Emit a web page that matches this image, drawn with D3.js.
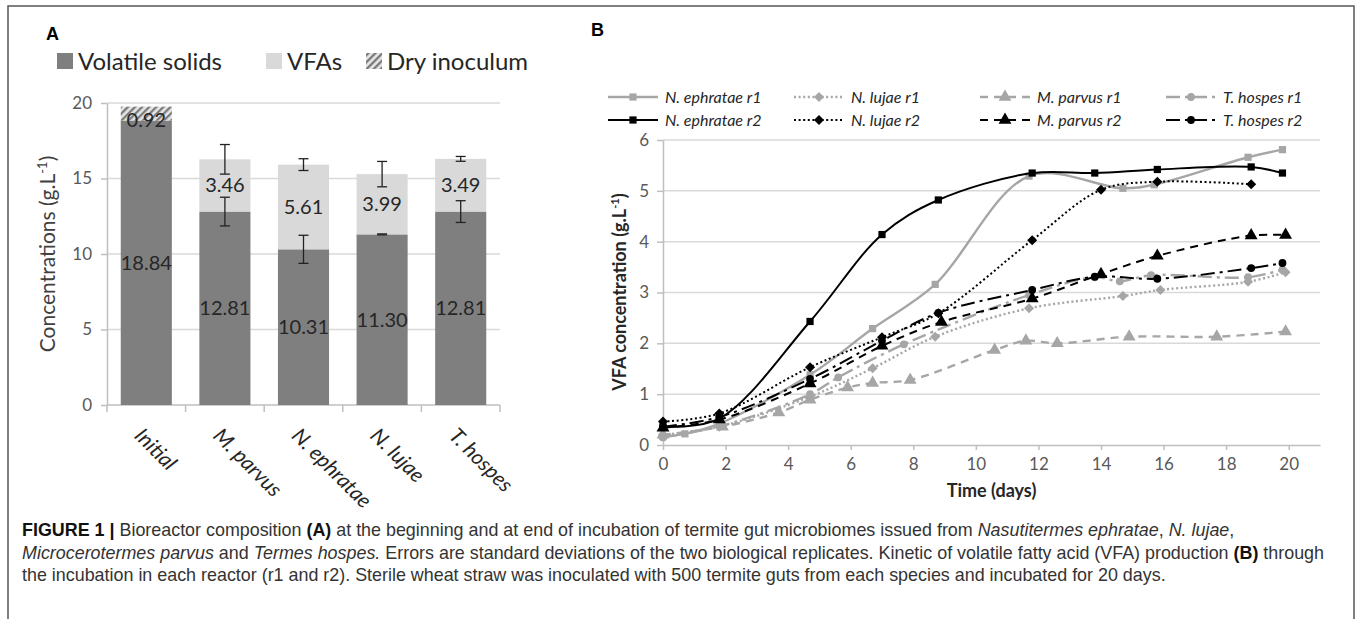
<!DOCTYPE html>
<html>
<head>
<meta charset="utf-8">
<script src="https://cdn.jsdelivr.net/npm/d3@7/dist/d3.min.js"></script>
<style>
  body { margin: 0; background: #fff; }
  svg text { font-family: Lato, "Open Sans", sans-serif; }
  svg .caption, svg .panel-letter { font-family: "Liberation Sans Narrow", "Liberation Sans", Arial, sans-serif; }
</style>
</head>
<body>
<script>
// Panel A data
var categories = ["Initial", "M. parvus", "N. ephratae", "N. lujae", "T. hospes"];
var volatileSolids = [18.84, 12.81, 10.31, 11.30, 12.81];
var vfas = [0, 3.46, 5.61, 3.99, 3.49];
var dryInoculum = [0.92, 0, 0, 0, 0];
var vsError = [0, 0.95, 0.93, 0.03, 0.72];
var vfaError = [0, 0.98, 0.39, 0.84, 0.16];
var concTicks = [0, 5, 10, 15, 20];

// Panel B data (days, g/L)
var timeTicks = [0, 2, 4, 6, 8, 10, 12, 14, 16, 18, 20];
var vfaTicks = [0, 1, 2, 3, 4, 5, 6];

var neR1Days = [0, 0.7, 1.8, 4.7, 6.7, 8.7, 11.7, 14.7, 15.7, 18.7, 19.8];
var neR1 = [0.17, 0.22, 0.42, 1.38, 2.29, 3.16, 5.29, 5.05, 5.12, 5.66, 5.81];
var nlR1Days = [0, 1.8, 4.7, 6.7, 8.7, 11.7, 14.7, 15.9, 18.7, 19.9];
var nlR1 = [0.2, 0.36, 0.95, 1.51, 2.13, 2.69, 2.93, 3.05, 3.21, 3.40];
var mpR1Days = [0, 1.9, 3.7, 4.7, 5.9, 6.7, 7.9, 10.6, 11.6, 12.6, 14.9, 17.7, 19.9];
var mpR1 = [0.2, 0.36, 0.64, 0.89, 1.13, 1.22, 1.28, 1.87, 2.05, 2.0, 2.13, 2.13, 2.23];
var thR1Days = [0, 1.9, 4.7, 5.6, 7.7, 11.7, 13.8, 14.6, 15.6, 18.7, 19.8];
var thR1 = [0.15, 0.38, 1.0, 1.33, 1.98, 2.95, 3.3, 3.22, 3.34, 3.3, 3.45];
var neR2Days = [0, 1.8, 4.7, 7.0, 8.8, 11.8, 13.8, 15.8, 18.8, 19.8];
var neR2 = [0.36, 0.52, 2.43, 4.14, 4.82, 5.35, 5.35, 5.42, 5.47, 5.35];
var nlR2Days = [0, 1.8, 4.7, 7.0, 8.8, 11.8, 14.0, 15.8, 18.8];
var nlR2 = [0.46, 0.62, 1.53, 2.12, 2.59, 4.03, 5.02, 5.18, 5.13];
var mpR2Days = [0, 1.8, 4.7, 7.0, 8.9, 11.8, 14.0, 15.8, 18.8, 19.9];
var mpR2 = [0.34, 0.5, 1.21, 1.95, 2.42, 2.88, 3.36, 3.72, 4.12, 4.13];
var thR2Days = [0, 1.8, 4.7, 7.0, 8.8, 11.8, 13.8, 15.8, 18.8, 19.8];
var thR2 = [0.36, 0.55, 1.3, 2.05, 2.6, 3.05, 3.31, 3.27, 3.48, 3.58];

var grey = "#a6a6a6";
var tickGrey = "#595959";
var gridGrey = "#d9d9d9";

var svg = d3.select("body").append("svg")
    .attr("width", 1360)
    .attr("height", 619);

// figure frame (open at the bottom)
svg.append("path")
    .attr("d", "M8,619V6H1354V619")
    .attr("fill", "none")
    .attr("stroke", "#555")
    .attr("stroke-width", 1.5);

// hatch for dry inoculum
svg.append("defs").append("pattern")
    .attr("id", "hatch")
    .attr("width", 5)
    .attr("height", 5)
    .attr("patternUnits", "userSpaceOnUse")
    .attr("patternTransform", "rotate(45)")
  .call(function(p) {
    p.append("rect").attr("width", 5).attr("height", 5).attr("fill", "#e6e6e6");
    p.append("line").attr("x1", 1).attr("x2", 1).attr("y1", 0).attr("y2", 5)
        .attr("stroke", "#7a7a7a").attr("stroke-width", 2.6);
  });

// ---------------- Panel A ----------------
var a = {left: 107, right: 500, top: 103, bottom: 405};

var xA = d3.scaleBand()
    .domain(categories)
    .range([a.left, a.right])
    .paddingInner(0.35)
    .paddingOuter(0.175);

var yA = d3.scaleLinear()
    .domain([0, 20])
    .range([a.bottom, a.top]);

var rows = categories.map(function(c, i) {
  return {
    cat: c, vs: volatileSolids[i], vfa: vfas[i], dry: dryInoculum[i],
    vsErr: vsError[i], vfaErr: vfaError[i]
  };
});

var panelA = svg.append("g").attr("class", "panel-a");

panelA.append("text")
    .attr("class", "panel-letter")
    .attr("x", 46).attr("y", 40)
    .attr("font-size", 18).attr("font-weight", "bold")
    .text("A");

// gridlines
panelA.append("g").selectAll("line")
    .data(concTicks.slice(1))
  .enter().append("line")
    .attr("x1", a.left).attr("x2", a.right)
    .attr("y1", function(d) { return yA(d); })
    .attr("y2", function(d) { return yA(d); })
    .attr("stroke", gridGrey)
    .attr("stroke-width", 1.5);

// y axis
var yAxisA = panelA.append("g")
    .attr("transform", "translate(" + a.left + ",0)")
    .call(d3.axisLeft(yA).tickValues(concTicks).tickSize(6).tickSizeOuter(0).tickPadding(9));
yAxisA.select(".domain").attr("stroke", "#bfbfbf").attr("stroke-width", 1.5);
yAxisA.selectAll(".tick line").attr("stroke", "#bfbfbf").attr("stroke-width", 1.5);
yAxisA.selectAll(".tick text")
    .attr("fill", tickGrey).attr("font-size", 17).attr("font-family", "Lato, sans-serif");

// x axis with ticks between categories
var boundaries = categories.map(function(c) { return xA(c) - xA.step() * xA.paddingInner() / 2; });
boundaries[0] = a.left;
boundaries.push(a.right);

panelA.append("line")
    .attr("x1", a.left).attr("x2", a.right)
    .attr("y1", a.bottom).attr("y2", a.bottom)
    .attr("stroke", "#bfbfbf").attr("stroke-width", 1.5);
panelA.append("g").selectAll("line")
    .data(boundaries)
  .enter().append("line")
    .attr("x1", function(d) { return d; })
    .attr("x2", function(d) { return d; })
    .attr("y1", a.bottom).attr("y2", a.bottom + 7)
    .attr("stroke", "#bfbfbf").attr("stroke-width", 1.5);

// stacked bars
var bars = panelA.append("g").selectAll("g")
    .data(rows)
  .enter().append("g");

bars.append("rect")
    .attr("x", function(d) { return xA(d.cat); })
    .attr("width", xA.bandwidth())
    .attr("y", function(d) { return yA(d.vs); })
    .attr("height", function(d) { return yA(0) - yA(d.vs); })
    .attr("fill", "#7f7f7f");

bars.filter(function(d) { return d.vfa > 0; }).append("rect")
    .attr("x", function(d) { return xA(d.cat); })
    .attr("width", xA.bandwidth())
    .attr("y", function(d) { return yA(d.vs + d.vfa); })
    .attr("height", function(d) { return yA(d.vs) - yA(d.vs + d.vfa); })
    .attr("fill", "#d9d9d9");

bars.filter(function(d) { return d.dry > 0; }).append("rect")
    .attr("x", function(d) { return xA(d.cat); })
    .attr("width", xA.bandwidth())
    .attr("y", function(d) { return yA(d.vs + d.dry); })
    .attr("height", function(d) { return yA(d.vs) - yA(d.vs + d.dry); })
    .attr("fill", "url(#hatch)");

// error bars
function errorBar(sel, top, err) {
  var g = sel.filter(function(d) { return err(d) > 0; }).append("g")
      .attr("stroke", "#222").attr("stroke-width", 1.3);
  g.append("line")
      .attr("x1", function(d) { return xA(d.cat) + xA.bandwidth() / 2; })
      .attr("x2", function(d) { return xA(d.cat) + xA.bandwidth() / 2; })
      .attr("y1", function(d) { return yA(top(d) - err(d)); })
      .attr("y2", function(d) { return yA(top(d) + err(d)); });
  [-1, 1].forEach(function(s) {
    g.append("line")
        .attr("x1", function(d) { return xA(d.cat) + xA.bandwidth() / 2 - 5; })
        .attr("x2", function(d) { return xA(d.cat) + xA.bandwidth() / 2 + 5; })
        .attr("y1", function(d) { return yA(top(d) + s * err(d)); })
        .attr("y2", function(d) { return yA(top(d) + s * err(d)); });
  });
}
errorBar(bars, function(d) { return d.vs; }, function(d) { return d.vsErr; });
errorBar(bars, function(d) { return d.vs + d.vfa; }, function(d) { return d.vfaErr; });

// data labels
function barLabel(sel, mid, val) {
  sel.append("text")
      .attr("x", function(d) { return xA(d.cat) + xA.bandwidth() / 2; })
      .attr("y", function(d) { return yA(mid(d)); })
      .attr("dy", "0.35em")
      .attr("text-anchor", "middle")
      .attr("font-size", 20)
      .attr("fill", "#262626")
      .text(function(d) { return val(d).toFixed(2); });
}
barLabel(bars, function(d) { return d.vs / 2; }, function(d) { return d.vs; });
barLabel(bars.filter(function(d) { return d.vfa > 0; }),
    function(d) { return d.vs + d.vfa / 2; }, function(d) { return d.vfa; });
barLabel(bars.filter(function(d) { return d.dry > 0; }),
    function(d) { return d.vs + d.dry / 2 - 0.4; }, function(d) { return d.dry; });

// category labels, rotated
panelA.append("g").selectAll("text")
    .data(categories)
  .enter().append("text")
    .attr("transform", function(d) {
      return "translate(" + (xA(d) + xA.bandwidth() / 2 - 13) + "," + (a.bottom + 32) + ") rotate(45)";
    })
    .attr("font-size", 21)
    .attr("font-style", "italic")
    .attr("fill", "#262626")
    .text(function(d) { return d; });

// y title
panelA.append("text")
    .attr("transform", "translate(55," + ((a.top + a.bottom) / 2) + ") rotate(-90)")
    .attr("text-anchor", "middle")
    .attr("font-size", 21)
    .attr("fill", "#404040")
  .call(function(t) {
    t.append("tspan").text("Concentrations (g.L");
    t.append("tspan").attr("dy", -8).attr("font-size", 13).text("-1");
    t.append("tspan").attr("dy", 8).text(")");
  });

// legend
var legendA = [
  {label: "Volatile solids", fill: "#7f7f7f", x: 57},
  {label: "VFAs", fill: "#d9d9d9", x: 266},
  {label: "Dry inoculum", fill: "url(#hatch)", x: 366}
];
var legA = panelA.append("g").selectAll("g")
    .data(legendA)
  .enter().append("g")
    .attr("transform", function(d) { return "translate(" + d.x + ",61)"; });
legA.append("rect")
    .attr("x", 0).attr("y", -8).attr("width", 16).attr("height", 16)
    .attr("fill", function(d) { return d.fill; });
legA.append("text")
    .attr("x", 21).attr("dy", "0.36em")
    .attr("font-size", 24)
    .attr("fill", "#262626")
    .text(function(d) { return d.label; });

// ---------------- Panel B ----------------
var b = {left: 663, right: 1320, top: 140, bottom: 445};

var xB = d3.scaleLinear().domain([0, 21]).range([b.left, b.right]);
var yB = d3.scaleLinear().domain([0, 6]).range([b.bottom, b.top]);

var panelB = svg.append("g").attr("class", "panel-b");

panelB.append("text")
    .attr("class", "panel-letter")
    .attr("x", 591).attr("y", 36)
    .attr("font-size", 18).attr("font-weight", "bold")
    .text("B");

panelB.append("g").selectAll("line")
    .data(vfaTicks.slice(1))
  .enter().append("line")
    .attr("x1", b.left).attr("x2", b.right)
    .attr("y1", function(d) { return yB(d); })
    .attr("y2", function(d) { return yB(d); })
    .attr("stroke", gridGrey)
    .attr("stroke-width", 1.5);

var yAxisB = panelB.append("g")
    .attr("transform", "translate(" + b.left + ",0)")
    .call(d3.axisLeft(yB).tickValues(vfaTicks).tickFormat(d3.format("d"))
        .tickSize(6).tickSizeOuter(0).tickPadding(8));
var xAxisB = panelB.append("g")
    .attr("transform", "translate(0," + b.bottom + ")")
    .call(d3.axisBottom(xB).tickValues(timeTicks).tickFormat(d3.format("d"))
        .tickSize(5).tickSizeOuter(0).tickPadding(8));

[yAxisB, xAxisB].forEach(function(ax) {
  ax.select(".domain").attr("stroke", "#bfbfbf").attr("stroke-width", 1.5);
  ax.selectAll(".tick line").attr("stroke", "#bfbfbf").attr("stroke-width", 1.5);
  ax.selectAll(".tick text")
      .attr("fill", tickGrey).attr("font-size", 17).attr("font-family", "Lato, sans-serif");
});

panelB.append("text")
    .attr("x", (b.left + b.right) / 2).attr("y", 497)
    .attr("text-anchor", "middle")
    .attr("font-size", 18).attr("font-weight", "bold")
    .attr("fill", "#262626")
    .text("Time (days)");

panelB.append("text")
    .attr("transform", "translate(626,292) rotate(-90)")
    .attr("text-anchor", "middle")
    .attr("font-size", 18).attr("font-weight", "bold")
    .attr("fill", "#262626")
  .call(function(t) {
    t.append("tspan").text("VFA concentration (g.L");
    t.append("tspan").attr("dy", -7).attr("font-size", 11).text("-1");
    t.append("tspan").attr("dy", 7).text(")");
  });

// series table
var markers = {
  square: {type: d3.symbolSquare, size: 52},
  diamond: {type: d3.symbolDiamond2, size: 64},
  triangle: {type: d3.symbolTriangle, size: 72},
  circle: {type: d3.symbolCircle, size: 48}
};
var dashes = {solid: null, dot: "2,2.6", dash: "8,6", dashDot: "14,5,3,5"};

var series = [
  {name: "N. ephratae r1", days: neR1Days, values: neR1, color: grey, dash: "solid", marker: "square"},
  {name: "N. lujae r1", days: nlR1Days, values: nlR1, color: grey, dash: "dot", marker: "diamond"},
  {name: "M. parvus r1", days: mpR1Days, values: mpR1, color: grey, dash: "dash", marker: "triangle"},
  {name: "T. hospes r1", days: thR1Days, values: thR1, color: grey, dash: "dashDot", marker: "circle"},
  {name: "N. ephratae r2", days: neR2Days, values: neR2, color: "#000", dash: "solid", marker: "square"},
  {name: "N. lujae r2", days: nlR2Days, values: nlR2, color: "#000", dash: "dot", marker: "diamond"},
  {name: "M. parvus r2", days: mpR2Days, values: mpR2, color: "#000", dash: "dash", marker: "triangle"},
  {name: "T. hospes r2", days: thR2Days, values: thR2, color: "#000", dash: "dashDot", marker: "circle"}
];
series.forEach(function(s) {
  s.points = s.days.map(function(d, i) { return {day: d, value: s.values[i]}; });
});

var line = d3.line()
    .curve(d3.curveCatmullRom.alpha(0.5))
    .x(function(d) { return xB(d.day); })
    .y(function(d) { return yB(d.value); });

var seriesG = panelB.append("g").selectAll("g")
    .data(series)
  .enter().append("g");

seriesG.append("path")
    .attr("d", function(d) { return line(d.points); })
    .attr("fill", "none")
    .attr("stroke", function(d) { return d.color; })
    .attr("stroke-width", function(d) { return d.color === grey ? 2.4 : 2; })
    .attr("stroke-dasharray", function(d) { return dashes[d.dash]; });

seriesG.each(function(s) {
  var sym = d3.symbol().type(markers[s.marker].type).size(markers[s.marker].size);
  d3.select(this).selectAll("path.marker")
      .data(s.points)
    .enter().append("path")
      .attr("class", "marker")
      .attr("transform", function(d) { return "translate(" + xB(d.day) + "," + yB(d.value) + ")"; })
      .attr("d", sym)
      .attr("fill", s.color);
});

// legend, 4 columns x 2 rows
var legB = panelB.append("g").selectAll("g")
    .data(series)
  .enter().append("g")
    .attr("transform", function(d, i) {
      return "translate(" + (608 + (i % 4) * 186) + "," + (97 + Math.floor(i / 4) * 23) + ")";
    });
legB.append("line")
    .attr("x1", 0).attr("x2", 50)
    .attr("stroke", function(d) { return d.color; })
    .attr("stroke-width", function(d) { return d.color === grey ? 2.4 : 2; })
    .attr("stroke-dasharray", function(d) { return dashes[d.dash]; });
legB.append("path")
    .attr("transform", "translate(25,0)")
    .attr("d", function(d) { return d3.symbol().type(markers[d.marker].type).size(markers[d.marker].size)(); })
    .attr("fill", function(d) { return d.color; });
legB.append("text")
    .attr("x", 57).attr("dy", "0.35em")
    .attr("font-size", 16)
    .attr("font-style", "italic")
    .attr("fill", "#262626")
    .text(function(d) { return d.name; });

// ---------------- Caption ----------------
var captionLines = [
  [["FIGURE 1 |", "b"], [" Bioreactor composition "], ["(A)", "b"],
   [" at the beginning and at end of incubation of termite gut microbiomes issued from "],
   ["Nasutitermes ephratae", "i"], [", "], ["N. lujae", "i"], [","]],
  [["Microcerotermes parvus", "i"], [" and "], ["Termes hospes.", "i"],
   [" Errors are standard deviations of the two biological replicates. Kinetic of volatile fatty acid (VFA) production "],
   ["(B)", "b"], [" through"]],
  [["the incubation in each reactor (r1 and r2). Sterile wheat straw was inoculated with 500 termite guts from each species and incubated for 20 days."]]
];

svg.append("g").selectAll("text")
    .data(captionLines)
  .enter().append("text")
    .attr("class", "caption")
    .attr("x", 22)
    .attr("y", function(d, i) { return 536 + i * 22.5; })
    .attr("font-size", 17.9)
    .attr("fill", "#333")
  .selectAll("tspan")
    .data(function(d) { return d; })
  .enter().append("tspan")
    .attr("font-weight", function(d) { return d[1] === "b" ? "bold" : null; })
    .attr("font-style", function(d) { return d[1] === "i" ? "italic" : null; })
    .attr("fill", function(d) { return d[1] === "b" ? "#111" : null; })
    .text(function(d) { return d[0]; });
</script>
</body>
</html>
